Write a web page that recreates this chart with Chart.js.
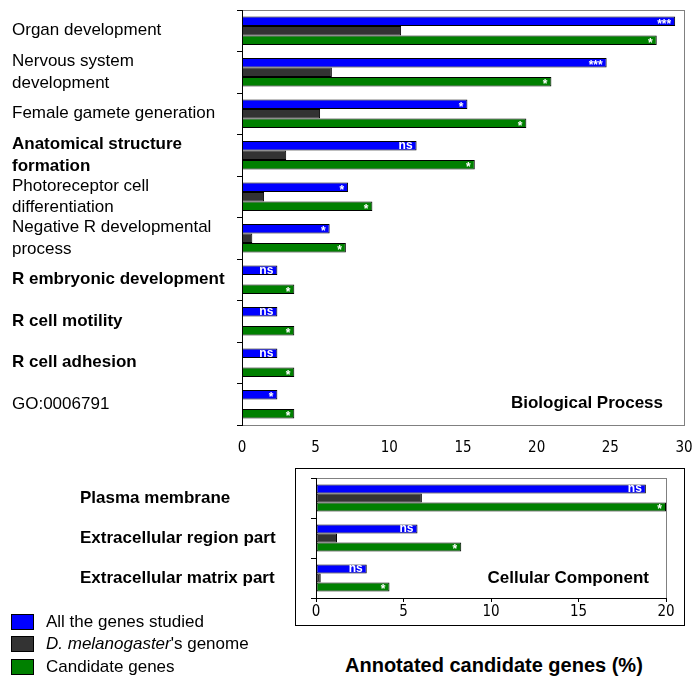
<!DOCTYPE html>
<html>
<head>
<meta charset="utf-8">
<script src="https://cdn.jsdelivr.net/npm/chart.js@4.4.1/dist/chart.umd.min.js"></script>
<style>
  body { margin: 0; background: #fff; }
  #wrap { position: relative; width: 699px; height: 699px; background: #fff; font-family: "Liberation Sans", Arial, sans-serif; }
  canvas { position: absolute; left: 0; }
  #legend { position: absolute; left: 11px; top: 611px; }
  .item { display: flex; align-items: center; height: 22.3px; font-size: 17px; color: #000; }
  .swatch { width: 21px; height: 14px; border: 1px solid #000; margin-right: 12px; }
  #xtitle { position: absolute; left: 345px; top: 654px; font-size: 20px; font-weight: bold; color: #000; }
</style>
</head>
<body>
<div id="wrap">
  <canvas id="bio" width="699" height="462" style="top:0"></canvas>
  <canvas id="cc" width="699" height="170" style="top:465px"></canvas>
  <div id="legend"></div>
  <div id="xtitle">Annotated candidate genes (%)</div>
</div>
<script>
// series
const seriesNames = ["All the genes studied", "D. melanogaster's genome", "Candidate genes"];
const seriesColors = ["#0000ff", "#333333", "#008000"];

// Biological Process
const bioCategories = [
  "Organ development",
  ["Nervous system", "development"],
  "Female gamete generation",
  ["Anatomical structure", "formation"],
  ["Photoreceptor cell", "differentiation"],
  ["Negative R developmental", "process"],
  "R embryonic development",
  "R cell motility",
  "R cell adhesion",
  "GO:0006791"
];
const bioBold = [3, 6, 7, 8];
const bioAll = [29.4, 24.75, 15.3, 11.85, 7.2, 5.95, 2.4, 2.4, 2.4, 2.4];
const bioGenome = [10.8, 6.1, 5.3, 3.0, 1.5, 0.7, 0, 0, 0, 0];
const bioCandidate = [28.15, 21.0, 19.3, 15.8, 8.85, 7.05, 3.55, 3.55, 3.55, 3.55];
const bioSigAll = ["***", "***", "*", "ns", "*", "*", "ns", "ns", "ns", "*"];
const bioSigCand = ["*", "*", "*", "*", "*", "*", "*", "*", "*", "*"];
const bioTicks = [0, 5, 10, 15, 20, 25, 30];

// Cellular Component
const ccCategories = ["Plasma membrane", "Extracellular region part", "Extracellular matrix part"];
const ccAll = [18.85, 5.8, 2.9];
const ccGenome = [6.05, 1.2, 0.27];
const ccCandidate = [20, 8.3, 4.2];
const ccSigAll = ["ns", "ns", "ns"];
const ccSigCand = ["*", "*", "*"];
const ccTicks = [0, 5, 10, 15, 20];

const FONT = '"Liberation Sans", Arial, sans-serif';
const NARROW = '"Liberation Sans Narrow", "DejaVu Sans Condensed", "Liberation Sans", Arial, sans-serif';

// grey plot frame, optional outer box, significance marks, panel name
const panelPlugin = {
  id: "panel",
  beforeDraw(chart, args, opts) {
    const { ctx, chartArea: a } = chart;
    ctx.save();
    ctx.lineWidth = 1;
    if (opts.box) {
      ctx.strokeStyle = "#000";
      ctx.strokeRect(opts.box[0] + 0.5, opts.box[1] + 0.5, opts.box[2], opts.box[3]);
    }
    ctx.strokeStyle = "#808080";
    ctx.strokeRect(Math.round(a.left) + 0.5, Math.round(a.top) + 0.5,
      Math.round(a.right - a.left), Math.round(a.bottom - a.top));
    ctx.restore();
  },
  afterDatasetsDraw(chart, args, opts) {
    const { ctx, chartArea: a } = chart;
    ctx.save();
    ctx.fillStyle = "#fff";
    ctx.textAlign = "right";
    ctx.textBaseline = "middle";
    opts.marks.forEach(([ds, labels]) => {
      chart.getDatasetMeta(ds).data.forEach((bar, i) => {
        const t = labels[i];
        if (!t) return;
        if (t === "ns") {
          ctx.font = "bold 12px " + FONT;
          ctx.fillText(t, bar.x - 4, bar.y);
        } else {
          ctx.font = "bold 12px " + FONT;
          ctx.fillText(t, bar.x - 4, bar.y + 3);
        }
      });
    });
    ctx.fillStyle = "#000";
    ctx.font = "bold 17px " + FONT;
    ctx.fillText(opts.title, a.right - opts.titleDx, a.bottom - opts.titleDy);
    ctx.restore();
  }
};

function makeDatasets(all, genome, cand) {
  return [all, genome, cand].map((d, i) => ({
    label: seriesNames[i],
    data: d,
    backgroundColor: seriesColors[i],
    borderColor: "#000",
    borderWidth: 1,
    borderSkipped: false
  }));
}

function noPad(s) {
  s.paddingTop = 0;
  s.paddingBottom = 0;
  s.paddingLeft = 0;
  s.paddingRight = 0;
}

function makeChart(el, labels, data, o) {
  return new Chart(document.getElementById(el), {
    type: "bar",
    data: { labels: labels, datasets: data },
    options: {
      indexAxis: "y",
      responsive: false,
      animation: false,
      devicePixelRatio: 1,
      categoryPercentage: o.catPct,
      barPercentage: 1,
      layout: { padding: o.padding },
      plugins: {
        legend: { display: false },
        tooltip: { enabled: false },
        panel: o.panel
      },
      scales: {
        x: {
          min: 0,
          max: o.max,
          afterBuildTicks: (s) => { s.ticks = o.ticks.map((v) => ({ value: v })); },
          afterFit: (s) => { s.height = o.xHeight; noPad(s); },
          border: { display: o.xBorder, color: "#000" },
          grid: { display: o.xBorder, drawOnChartArea: false, color: "#000", tickLength: 4 },
          ticks: { color: "#000", font: { family: NARROW, size: 15 }, padding: o.xPad, maxRotation: 0 }
        },
        y: {
          afterFit: (s) => { s.width = o.yWidth; noPad(s); },
          border: { display: true, color: "#000" },
          grid: { display: true, drawOnChartArea: false, color: "#000", tickLength: 5, offset: true },
          ticks: {
            autoSkip: false,
            crossAlign: "far",
            color: "#000",
            font: (c) => ({
              family: FONT,
              size: 17,
              weight: o.bold(c.index) ? "bold" : "normal",
              lineHeight: 1.25
            })
          }
        }
      }
    },
    plugins: [panelPlugin]
  });
}

makeChart("bio", bioCategories, makeDatasets(bioAll, bioGenome, bioCandidate), {
  catPct: 0.684,
  padding: { left: 12, top: 10, right: 15, bottom: 10 },
  max: 30,
  ticks: bioTicks,
  xHeight: 27,
  xBorder: false,
  xPad: 10,
  yWidth: 230,
  bold: (i) => bioBold.includes(i),
  panel: { title: "Biological Process", titleDx: 21, titleDy: 22, marks: [[0, bioSigAll], [2, bioSigCand]] }
});

makeChart("cc", ccCategories, makeDatasets(ccAll, ccGenome, ccCandidate), {
  catPct: 0.675,
  padding: { left: 80, top: 13, right: 33, bottom: 12 },
  max: 20,
  ticks: ccTicks,
  xHeight: 25,
  xBorder: true,
  xPad: 1,
  yWidth: 236,
  bold: () => true,
  panel: { title: "Cellular Component", titleDx: 17, titleDy: 20, box: [295, 3, 389, 157], marks: [[0, ccSigAll], [2, ccSigCand]] }
});

// legend
document.getElementById("legend").innerHTML = seriesNames.map((n, i) =>
  '<div class="item"><span class="swatch" style="background:' + seriesColors[i] + '"></span><span>' +
  n.replace("D. melanogaster", "<i>D. melanogaster</i>") + "</span></div>"
).join("");
</script>
</body>
</html>
